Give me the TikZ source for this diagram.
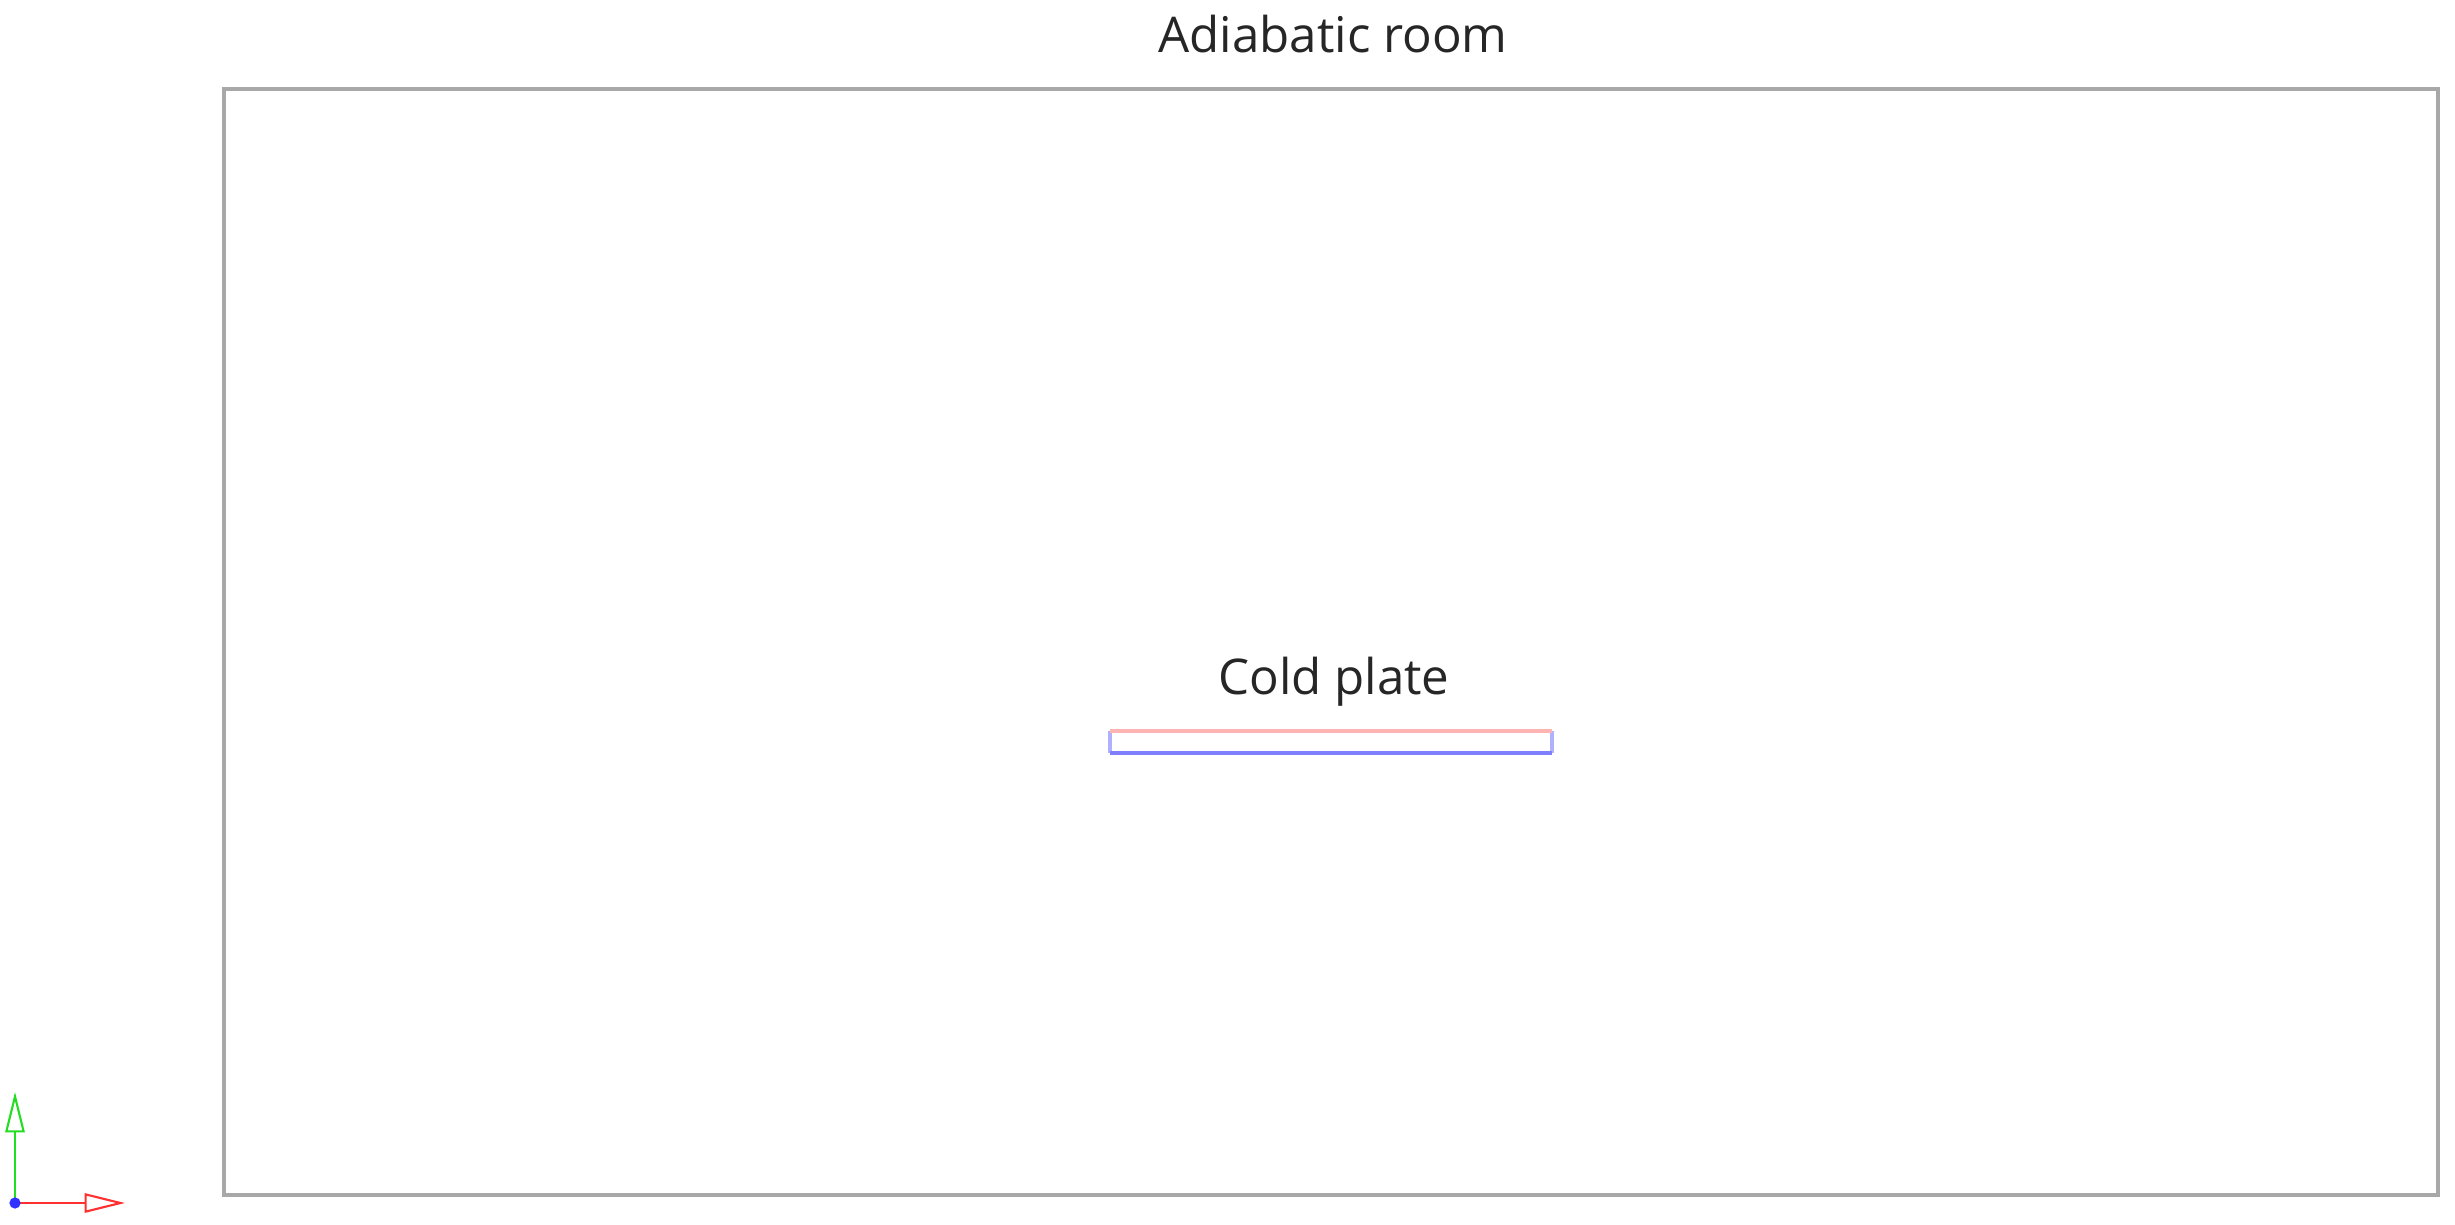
\documentclass[tikz,border=0pt]{standalone}
\usepackage{fontspec}
\setmainfont{Open Sans}
\usetikzlibrary{arrows.meta}
\definecolor{roomgray}{HTML}{A8A8A8}
\definecolor{platered}{HTML}{FFB4B4}
\definecolor{plateblue}{HTML}{8080FF}
\definecolor{plateside}{HTML}{B0B0FF}
\definecolor{axgreen}{HTML}{22DD22}
\definecolor{axred}{HTML}{FF3030}
\definecolor{axblue}{HTML}{3030FF}
\tikzset{
  lbl/.style={font=\fontsize{14}{16}\selectfont, text=black!85, inner sep=0pt, anchor=base},
  axarrow/.style={line width=0.8pt, -{Triangle[open, length=11.5pt, width=5.5pt, line width=0.6pt]}},
}
\begin{document}
\begin{tikzpicture}[x=0.01cm, y=-0.01cm]
\useasboundingbox (0,0) rectangle (2455,1225);
% room
\draw[roomgray, line width=0.9pt] (224,89) rectangle (2438,1195);
\node[lbl] (roomlbl) at (1333,53) {Adiabatic room};
% cold plate
\coordinate (ptl) at (1110,731);
\coordinate (ptr) at (1552,731);
\coordinate (pbl) at (1110,753);
\coordinate (pbr) at (1552,753);
\draw[plateside, line width=1pt] (ptl) -- (pbl) (ptr) -- (pbr);
\draw[platered, line width=1pt] (ptl) -- (ptr);
\draw[plateblue, line width=1.1pt] (pbl) -- (pbr);
\node[lbl] (platelbl) at (1334,695) {Cold plate};
% axis triad
\coordinate (orig) at (15,1203);
\coordinate (xend) at (125,1203);
\coordinate (yend) at (15,1092);
\draw[axgreen, axarrow] (orig) -- (yend);
\draw[axred, axarrow] (orig) -- (xend);
\fill[axblue] (orig) circle (1.6pt);
\end{tikzpicture}
\end{document}
